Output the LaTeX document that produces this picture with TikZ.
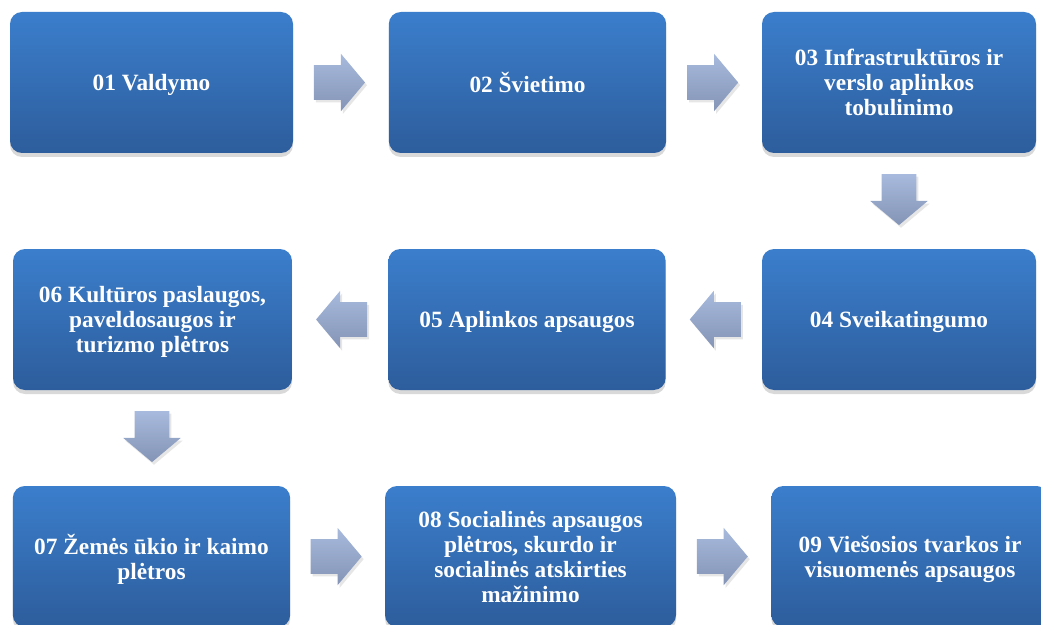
\documentclass[tikz,border=0pt]{standalone}
\usepackage{fontspec}
\setmainfont{Liberation Serif}
\newfontfamily\stagefont{Liberation Serif Bold}
\usetikzlibrary{shapes.arrows,shadows,calc}

\definecolor{boxtop}{HTML}{3B7ECC}
\definecolor{boxbot}{HTML}{2D5D9C}
\definecolor{arrtop}{HTML}{A8BADD}
\definecolor{arrbot}{HTML}{8394B6}

\tikzset{
  stagebox/.style={rounded corners=9pt,top color=boxtop,bottom color=boxbot,
    text=white,align=center,inner sep=0pt,text depth=0pt,
    font=\stagefont\fontsize{17.5}{18.75}\selectfont,
    minimum width=208pt,minimum height=105.75pt,
    drop shadow={shadow xshift=0pt,shadow yshift=-3pt,opacity=.3}},
  flowarrow/.style={single arrow,top color=arrtop,bottom color=arrbot,
    minimum height=38.25pt,inner xsep=0pt,inner ysep=12.75pt,outer sep=0pt,
    single arrow head extend=8.6pt,single arrow tip angle=100,
    drop shadow={shadow xshift=1.5pt,shadow yshift=-2pt,opacity=.2}},
  nextarrow/.style={flowarrow,xshift=-6.5pt},
  backarrow/.style={flowarrow,shape border rotate=180,xshift=6.5pt},
  downarrow/.style={flowarrow,shape border rotate=270,inner xsep=12.75pt,inner ysep=0pt,yshift=6.5pt}
}

\begin{document}
\begin{tikzpicture}[x=0.75pt,y=-0.75pt]
  \useasboundingbox (0,0) rectangle (1041,624);
  \clip (0,0) rectangle (1041,624);

  \node[stagebox,minimum width=212.25pt] (v01) at (151.5,82.5) {01 Valdymo};
  \node[stagebox] (v02) at (527.5,82.5) {02 Švietimo};
  \node[stagebox,minimum width=205.5pt] (v03) at (899,82.5) {03 Infrastruktūros ir\\verslo aplinkos\\tobulinimo};

  \node[stagebox,minimum width=205.5pt] (v04) at (899,319.5) {04 Sveikatingumo};
  \node[stagebox] (v05) at (527,319.5) {05 Aplinkos apsaugos};
  \node[stagebox,minimum width=209.25pt] (v06) at (152.5,319.5) {06 Kultūros paslaugos,\\paveldosaugos ir\\turizmo plėtros};

  \node[stagebox] (v07) at (151.5,556.5) {07 Žemės ūkio ir kaimo\\plėtros};
  \node[stagebox,minimum width=218.25pt] (v08) at (530.5,556.5) {08 Socialinės apsaugos\\plėtros, skurdo ir\\socialinės atskirties\\mažinimo};
  \node[stagebox] (v09) at (910,556.5) {09 Viešosios tvarkos ir\\visuomenės apsaugos};

  \node[nextarrow] (a12) at ($(v01.east)!.5!(v02.west)$) {};
  \node[nextarrow] (a23) at ($(v02.east)!.5!(v03.west)$) {};
  \node[downarrow] (a34) at ($(v03.south)!.5!(v04.north)$) {};
  \node[backarrow] (a45) at ($(v04.west)!.5!(v05.east)$) {};
  \node[backarrow] (a56) at ($(v05.west)!.5!(v06.east)$) {};
  \node[downarrow] (a67) at ($(v06.south)!.5!(v07.north)$) {};
  \node[nextarrow] (a78) at ($(v07.east)!.5!(v08.west)$) {};
  \node[nextarrow] (a89) at ($(v08.east)!.5!(v09.west)$) {};
\end{tikzpicture}
\end{document}
